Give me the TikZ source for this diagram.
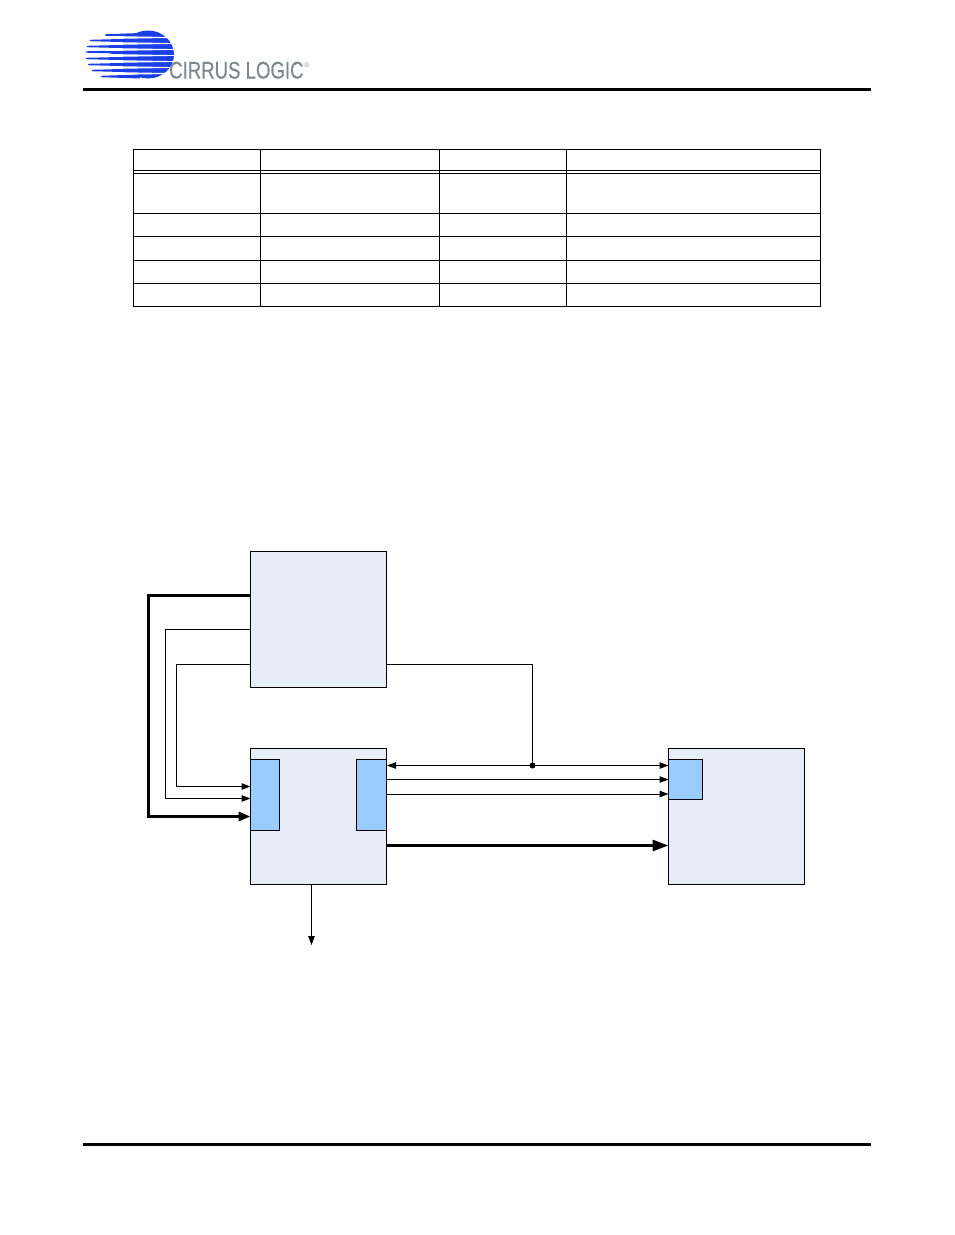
\documentclass[tikz,border=0pt]{standalone}
\usepackage{fontspec}
\usetikzlibrary{arrows.meta}
\newfontfamily\logofont[FakeStretch=0.775,FakeBold=0.4]{Liberation Sans}
\definecolor{blockfill}{HTML}{E6EDF7}
\definecolor{portfill}{HTML}{99CCFF}
\definecolor{logoblue}{HTML}{1A3FE6}
\definecolor{logogray}{HTML}{7D878C}
\tikzset{
  block/.style={draw,fill=blockfill,line width=1pt,minimum size=136pt,inner sep=0pt,outer sep=0pt},
  port/.style={draw,fill=portfill,line width=1pt,inner sep=0pt,outer sep=0pt,anchor=north west},
  wire/.style={line width=1pt,-{Triangle[length=9pt,width=6.5pt]}},
  bus/.style={line width=3pt,-{Triangle[length=16pt,width=11pt]}},
  rule/.style={line width=3pt}
}
\begin{document}
\begin{tikzpicture}[x=1pt,y=-1pt]
  \useasboundingbox (0,0) rectangle (954,1235);
  \fill[logoblue] (148,54.5) ellipse (26 and 24);
  \fill[logoblue] (135,54.5) ellipse (24 and 20);
  \foreach \y/\x in {35/105,40.5/90,46.5/87,52/86,58.5/86,64.5/88,70.5/92,76.5/101}
    \fill[logoblue] (\x,\y-.7)--(140,\y-2)--(140,\y+2)--(\x,\y+.7)--cycle;
  \foreach \y in {37.5,43.5,49.5,55.5,61.5,67.5,73.5}
    \fill[white] (108,\y-1.5)--(176,\y-.35)--(176,\y+.35)--(108,\y+1.5)--cycle;
  \node[logogray,anchor=base west,inner sep=0pt,font=\logofont\fontsize{24}{24}\selectfont] (logotext) at (169,78.5) {CIRRUS LOGIC};
  \node[logogray,anchor=west,inner sep=0pt,font=\fontsize{7}{7}\selectfont] (logoreg) at (304.5,65.5) {\textregistered};
  \draw[rule] (83,89.5)--(871,89.5);
  \draw[rule] (83,1144)--(871,1144);
  \draw[line width=1pt] (133.5,149.5) rectangle (820.5,306);
  \foreach \y in {170.5,173.5,213.5,236.5,260.5,283.5}
    \draw[line width=1pt] (133.5,\y)--(820.5,\y);
  \foreach \x in {260.5,439.5,566.5}
    \draw[line width=1pt] (\x,149.5)--(\x,306);
  \node[block] (host) at (318.5,619.5) {};
  \node[block] (ctrl) at (318.5,816.5) {};
  \node[block] (dev) at (736.5,816.5) {};
  \node[port,minimum width=29pt,minimum height=71pt] (ctrlin) at (250.5,759.5) {};
  \node[port,minimum width=30pt,minimum height=71pt] (ctrlout) at (356.5,759.5) {};
  \node[port,minimum width=34pt,minimum height=40pt] (devin) at (668.5,759.5) {};
  \coordinate (hosta) at (250.5,595.5);
  \coordinate (hostb) at (250.5,629.5);
  \coordinate (hostc) at (250.5,664.5);
  \coordinate (hostd) at (386.5,664.5);
  \coordinate (ina) at (250.5,816.5);
  \coordinate (inb) at (250.5,798.5);
  \coordinate (inc) at (250.5,786.5);
  \coordinate (outa) at (387,765.5);
  \coordinate (outb) at (386.5,779.5);
  \coordinate (outc) at (386.5,794);
  \coordinate (outd) at (386.5,845.5);
  \coordinate (down) at (311.5,945);
  \coordinate (junct) at (532.5,765.5);
  \draw[bus,-{Triangle[length=12pt,width=9pt]}] (hosta)-|(148.5,816.5)--(ina);
  \draw[wire] (hostb)-|(165.5,798.5)--(inb);
  \draw[wire] (hostc)-|(176.5,786.5)--(inc);
  \draw[line width=1pt] (hostd)-|(junct);
  \draw[wire,{Triangle[length=9pt,width=6.5pt]}-{Triangle[length=9pt,width=6.5pt]}] (outa)--(devin.west |- outa);
  \draw[wire] (outb)--(devin.west |- outb);
  \draw[wire] (outc)--(devin.west |- outc);
  \draw[bus] (outd)--(dev.west |- outd);
  \draw[wire] (ctrl.south -| down)--(down);
  \fill (junct) circle (3);
\end{tikzpicture}
\end{document}
